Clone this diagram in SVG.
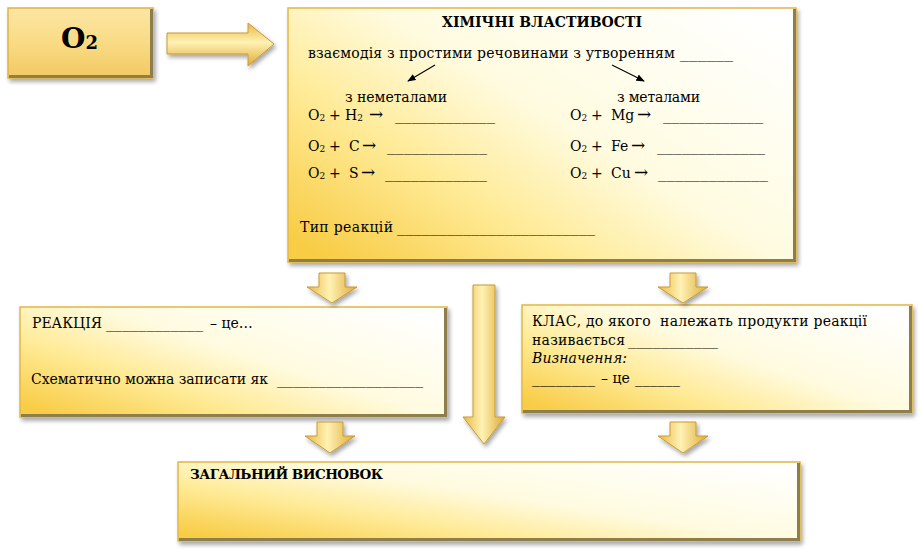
<svg xmlns="http://www.w3.org/2000/svg" width="920" height="552" viewBox="0 0 920 552">
<defs>
  <linearGradient id="boxFill" x1="0" y1="0.9" x2="1" y2="0.1">
    <stop offset="0" stop-color="#F8CC45"/>
    <stop offset="0.3" stop-color="#FFEB98"/>
    <stop offset="0.55" stop-color="#FFFBE0"/>
    <stop offset="1" stop-color="#FFFFFF"/>
  </linearGradient>
  <linearGradient id="o2Fill" x1="0" y1="0" x2="0" y2="1">
    <stop offset="0" stop-color="#FCE6A4"/>
    <stop offset="0.5" stop-color="#F9DB85"/>
    <stop offset="1" stop-color="#F2C860"/>
  </linearGradient>
  <linearGradient id="arrowV" x1="0" y1="0" x2="1" y2="0">
    <stop offset="0" stop-color="#E9B842"/>
    <stop offset="0.45" stop-color="#FFF2B4"/>
    <stop offset="1" stop-color="#DDAA35"/>
  </linearGradient>
  <linearGradient id="arrowH" x1="0" y1="0" x2="0" y2="1">
    <stop offset="0" stop-color="#E9B842"/>
    <stop offset="0.45" stop-color="#FFF2B4"/>
    <stop offset="1" stop-color="#DDAA35"/>
  </linearGradient>
  <filter id="shadow" x="-10%" y="-10%" width="125%" height="130%">
    <feDropShadow dx="2" dy="3" stdDeviation="2" flood-color="#000" flood-opacity="0.35"/>
  </filter>
  <marker id="thin" viewBox="0 0 10 10" refX="9" refY="5" markerWidth="7" markerHeight="7" orient="auto">
    <path d="M0,1 L10,5 L0,9 z" fill="#000"/>
  </marker>
  <style>
    .box { fill: url(#boxFill); stroke: #E3B646; stroke-width: 1.5; filter: url(#shadow); }
    .bevel { fill: none; stroke: #8E7E4C; stroke-width: 3; }
    .arrow { fill: url(#arrowV); stroke: #C99A35; stroke-width: 1; filter: url(#shadow); }
    .t { font-family: 'DejaVu Serif', serif; font-size: 14px; fill: #000; }
    .b { font-weight: bold; }
    .sub { font-size: 9px; }
    .ar { font-size: 17px; }
    .thinline { stroke: #000; stroke-width: 1.2; fill: none; }
  </style>
</defs>

<g id="o2">
  <rect x="8" y="8" width="145" height="70" fill="url(#o2Fill)" stroke="#E0B445" stroke-width="1.5" filter="url(#shadow)"/>
  <polyline class="bevel" points="151.5,9 151.5,76.5 9,76.5" stroke="#9C8040"/>
  <text class="t b" x="61" y="48" style="font-size:28px">O<tspan style="font-size:18px" dy="1">2</tspan></text>
</g>

<g id="chem-properties">
  <rect class="box" x="288" y="8" width="508" height="254"/>
  <polyline class="bevel" points="794.5,9 794.5,260.5 289,260.5"/>
  <text class="t b" x="542" y="27" text-anchor="middle" textLength="200">ХІМІЧНІ ВЛАСТИВОСТІ</text>
  <text class="t" x="308" y="58" textLength="367">взаємодія з простими речовинами з утворенням</text>
  <text class="t" x="680" y="58" textLength="53" lengthAdjust="spacingAndGlyphs">______</text>
  <line class="thinline" x1="435" y1="65" x2="408" y2="81" marker-end="url(#thin)"/>
  <line class="thinline" x1="612" y1="65" x2="644" y2="81" marker-end="url(#thin)"/>
  <text class="t" x="345" y="102" textLength="102">з неметалами</text>
  <text class="t" x="617" y="102" textLength="83">з металами</text>

  <text class="t" x="308" y="120">O<tspan class="sub" dy="1">2</tspan><tspan x="329" dy="-1">+</tspan><tspan x="345">H</tspan><tspan class="sub" dy="1">2</tspan><tspan class="ar" x="369" dy="-1">→</tspan></text>
  <text class="t" x="395" y="120" textLength="100" lengthAdjust="spacingAndGlyphs">____________</text>
  <text class="t" x="570" y="120">O<tspan class="sub" dy="1">2</tspan><tspan x="591" dy="-1">+</tspan><tspan x="611">Mg</tspan><tspan class="ar" x="637">→</tspan></text>
  <text class="t" x="663" y="120" textLength="100" lengthAdjust="spacingAndGlyphs">____________</text>

  <text class="t" x="308" y="151">O<tspan class="sub" dy="1">2</tspan><tspan x="329" dy="-1">+</tspan><tspan x="349">C</tspan><tspan class="ar" x="362">→</tspan></text>
  <text class="t" x="387" y="151" textLength="100" lengthAdjust="spacingAndGlyphs">____________</text>
  <text class="t" x="570" y="151">O<tspan class="sub" dy="1">2</tspan><tspan x="591" dy="-1">+</tspan><tspan x="611">Fe</tspan><tspan class="ar" x="631">→</tspan></text>
  <text class="t" x="657" y="151" textLength="108" lengthAdjust="spacingAndGlyphs">_____________</text>

  <text class="t" x="308" y="178">O<tspan class="sub" dy="1">2</tspan><tspan x="329" dy="-1">+</tspan><tspan x="349">S</tspan><tspan class="ar" x="361">→</tspan></text>
  <text class="t" x="385" y="178" textLength="102" lengthAdjust="spacingAndGlyphs">____________</text>
  <text class="t" x="570" y="178">O<tspan class="sub" dy="1">2</tspan><tspan x="591" dy="-1">+</tspan><tspan x="611">Cu</tspan><tspan class="ar" x="634">→</tspan></text>
  <text class="t" x="658" y="178" textLength="110" lengthAdjust="spacingAndGlyphs">_____________</text>

  <text class="t" x="300" y="232" textLength="93">Тип реакцій</text>
  <text class="t" x="397" y="232" textLength="198" lengthAdjust="spacingAndGlyphs">________________________</text>
</g>

<g id="reaction">
  <rect class="box" x="20" y="307" width="427" height="110"/>
  <polyline class="bevel" points="445.5,308 445.5,415.5 21,415.5"/>
  <text class="t" x="32" y="328" textLength="70">РЕАКЦІЯ</text>
  <text class="t" x="106" y="328" textLength="97" lengthAdjust="spacingAndGlyphs">____________</text>
  <text class="t" x="210" y="328">– це…</text>
  <text class="t" x="31" y="384" textLength="237">Схематично можна записати як</text>
  <text class="t" x="277" y="384" textLength="146" lengthAdjust="spacingAndGlyphs">__________________</text>
</g>

<g id="class">
  <rect class="box" x="522" y="305" width="390" height="108"/>
  <polyline class="bevel" points="910.5,306 910.5,411.5 523,411.5"/>
  <text class="t" x="532" y="326" textLength="335">КЛАС, до якого&#160; належать продукти реакції</text>
  <text class="t" x="532" y="345" textLength="93">називається</text>
  <text class="t" x="628" y="345" textLength="90" lengthAdjust="spacingAndGlyphs">___________</text>
  <text class="t" x="532" y="363" font-style="italic" textLength="95">Визначення:</text>
  <text class="t" x="532" y="383" textLength="63" lengthAdjust="spacingAndGlyphs">________</text>
  <text class="t" x="601" y="383">– це</text>
  <text class="t" x="635" y="383" textLength="45" lengthAdjust="spacingAndGlyphs">______</text>
</g>

<g id="conclusion">
  <rect class="box" x="178" y="462" width="622" height="79"/>
  <polyline class="bevel" points="798.5,463 798.5,539.5 179,539.5"/>
  <text class="t b" x="190" y="479" style="font-size:13.5px" textLength="193">ЗАГАЛЬНИЙ ВИСНОВОК</text>
</g>

<g id="connectors">
  <path class="arrow" style="fill:url(#arrowH)" d="M167,33 H248 V23 L274,44 L248,66 V54 H167 Z"/>
  <path class="arrow" d="M319,273 h26 v14 h12 l-25,16 l-25,-16 h12 z"/>
  <path class="arrow" d="M670,273 h26 v14 h12 l-25,16 l-25,-16 h12 z"/>
  <path class="arrow" d="M473,285 h22 v132 h10 l-21,27 l-21,-27 h10 z"/>
  <path class="arrow" d="M317,422 h26 v14 h12 l-25,17 l-25,-17 h12 z"/>
  <path class="arrow" d="M670,422 h26 v14 h12 l-25,17 l-25,-17 h12 z"/>
</g>
</svg>
